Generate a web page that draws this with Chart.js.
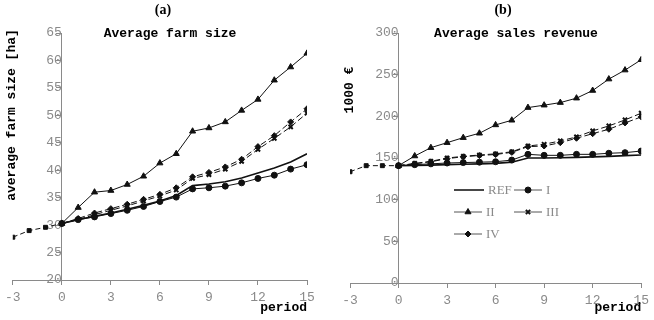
<!DOCTYPE html>
<html>
<head>
<meta charset="utf-8">
<script src="https://cdn.jsdelivr.net/npm/chart.js@4/dist/chart.umd.min.js"></script>
<style>
  body { margin: 0; background: #fff; }
  #wrap { position: relative; width: 654px; height: 320px; }
  .panel { position: absolute; top: 0; width: 327px; height: 320px; }
</style>
</head>
<body>
<div id="wrap">
  <div class="panel" style="left:0"><canvas id="farmChart"></canvas></div>
  <div class="panel" style="left:327px"><canvas id="salesChart"></canvas></div>
</div>
<script>
// periods
const histPeriods = [-3, -2, -1, 0];
const simPeriods = [0, 1, 2, 3, 4, 5, 6, 7, 8, 9, 10, 11, 12, 13, 14, 15];
const seriesNames = ['REF', 'I', 'II', 'III', 'IV'];

// (a) average farm size [ha]
const farmHist = [27.8, 29.0, 29.6, 30.3];
const farmREF = [30.3, 31.0, 31.6, 32.2, 32.9, 33.6, 34.4, 35.4, 37.2, 37.5, 37.9, 38.6, 39.5, 40.4, 41.5, 43.0];
const farmI   = [30.3, 31.0, 31.5, 32.1, 32.7, 33.4, 34.3, 35.1, 36.6, 36.8, 37.1, 37.7, 38.5, 39.1, 40.2, 41.0];
const farmII  = [30.3, 33.2, 36.0, 36.3, 37.4, 38.9, 41.3, 43.0, 47.1, 47.7, 48.8, 50.9, 52.9, 56.4, 58.8, 61.3];
const farmIII = [30.3, 31.0, 31.9, 32.7, 33.5, 34.4, 35.3, 36.4, 38.5, 39.2, 40.2, 41.6, 43.8, 45.8, 47.9, 50.4];
const farmIV  = [30.3, 31.2, 32.2, 33.0, 33.8, 34.7, 35.6, 36.8, 38.8, 39.6, 40.6, 42.0, 44.3, 46.3, 48.8, 51.2];

// (b) average sales revenue [1000 €]
const salesHist = [133.5, 140.8, 140.8, 140.8];
const salesREF = [140.8, 141.0, 141.5, 142.0, 142.5, 143.0, 143.5, 145.0, 150.0, 150.0, 150.3, 150.8, 151.3, 152.0, 152.8, 153.6];
const salesI   = [140.8, 142.0, 143.0, 144.0, 144.5, 145.0, 145.5, 147.5, 154.4, 153.2, 153.2, 154.4, 154.4, 155.7, 156.4, 158.4];
const salesII  = [140.8, 152.4, 162.4, 168.4, 174.4, 179.7, 189.7, 195.3, 210.5, 213.4, 216.5, 221.8, 231.0, 244.7, 255.5, 267.9];
const salesIII = [140.8, 143.5, 146.0, 150.0, 152.0, 153.6, 155.0, 157.5, 164.4, 166.5, 170.5, 175.3, 182.5, 188.5, 195.7, 203.8];
const salesIV  = [140.8, 143.0, 145.5, 149.2, 151.5, 153.0, 154.2, 156.8, 163.6, 164.4, 168.4, 173.7, 179.2, 184.5, 192.1, 199.3];

const GRAY = '#8a8a8a';
const MONO = '"Liberation Mono", "DejaVu Sans Mono", monospace';
const SERIF = '"Liberation Serif", "DejaVu Serif", serif';

// marker style per series
const markerStyles = {
    'REF': { pointStyle: false, radius: 0, borderWidth: 1.6, dash: [] },
    'I':   { pointStyle: 'circle', radius: 3, borderWidth: 1, dash: [] },
    'II':  { pointStyle: 'triangle', radius: 3.5, borderWidth: 1, dash: [] },
    'III': { pointStyle: 'crossRot', radius: 3, borderWidth: 2, dash: [6, 3] },
    'IV':  { pointStyle: 'rectRot', radius: 3, borderWidth: 1, dash: [6, 3] }
};

function toPoints(xs, ys) {
    return xs.map((x, i) => ({ x: x, y: ys[i] }));
}

function buildDatasets(hist, series) {
    const sets = [{
        label: 'history',
        data: toPoints(histPeriods, hist),
        borderColor: '#111',
        backgroundColor: '#111',
        borderWidth: 1,
        borderDash: [5, 3],
        pointStyle: 'rect',
        pointRadius: 2.8,
        pointBorderWidth: 1
    }];
    seriesNames.forEach((name, i) => {
        const m = markerStyles[name];
        sets.push({
            label: name,
            data: toPoints(simPeriods, series[i]),
            borderColor: '#111',
            backgroundColor: '#111',
            borderWidth: name === 'REF' ? 1.6 : 1,
            borderDash: m.dash,
            pointStyle: m.pointStyle,
            pointRadius: m.radius,
            pointBorderWidth: m.borderWidth
        });
    });
    return sets;
}

// titles and axis names drawn on the canvas
function textPlugin(cfg) {
    return {
        id: 'panelText',
        afterDraw(chart) {
            const ctx = chart.ctx;
            ctx.save();
            ctx.fillStyle = '#000';
            ctx.textBaseline = 'middle';
            ctx.textAlign = 'center';
            ctx.font = 'bold 14px ' + SERIF;
            ctx.fillText(cfg.panel, cfg.panelX, 10);
            ctx.font = 'bold 13px ' + MONO;
            ctx.fillText(cfg.title, cfg.titleX, 34);
            ctx.textAlign = 'right';
            ctx.fillText('period', chart.chartArea.right, 308);
            ctx.translate(cfg.yTitleX, cfg.yTitleY);
            ctx.rotate(-Math.PI / 2);
            ctx.textAlign = 'center';
            ctx.fillText(cfg.yTitle, 0, 0);
            ctx.restore();
        }
    };
}

// legend inside panel (b)
const legendPlugin = {
    id: 'innerLegend',
    afterDraw(chart) {
        const ctx = chart.ctx;
        const slots = [[127, 190], [187, 190], [127, 212], [187, 212], [127, 234]];
        ctx.save();
        seriesNames.forEach((name, i) => {
            const m = markerStyles[name];
            const [x, y] = slots[i];
            const w = name === 'REF' ? 30 : 28;
            ctx.strokeStyle = name === 'REF' ? '#333' : '#555';
            ctx.lineWidth = name === 'REF' ? 1.8 : 1;
            ctx.beginPath();
            ctx.moveTo(x, y);
            ctx.lineTo(x + w, y);
            ctx.stroke();
            if (m.pointStyle) {
                ctx.fillStyle = '#111';
                ctx.strokeStyle = '#111';
                ctx.lineWidth = m.borderWidth;
                Chart.helpers.drawPoint(ctx, {
                    pointStyle: m.pointStyle, radius: m.radius,
                    rotation: 0, borderWidth: m.borderWidth
                }, x + w / 2, y);
            }
            ctx.fillStyle = GRAY;
            ctx.font = '13px ' + SERIF;
            ctx.textAlign = 'left';
            ctx.textBaseline = 'middle';
            ctx.fillText(name, x + w + 4, y + 1);
        });
        ctx.restore();
    }
};

function makeChart(canvasId, hist, series, yMin, yMax, yStep, padding, cfg, extraPlugins) {
    const ctx = document.getElementById(canvasId).getContext('2d');
    return new Chart(ctx, {
        type: 'line',
        data: { datasets: buildDatasets(hist, series) },
        options: {
            responsive: false,
            animation: false,
            layout: { padding: padding },
            plugins: {
                legend: { display: false },
                tooltip: { enabled: false }
            },
            elements: { line: { tension: 0 } },
            scales: {
                x: {
                    type: 'linear',
                    min: -3,
                    max: 15,
                    afterFit: function (scale) { scale.height = 30; },
                    ticks: {
                        stepSize: 3,
                        color: GRAY,
                        padding: 5,
                        maxRotation: 0,
                        font: { family: MONO, size: 13 }
                    },
                    grid: { drawOnChartArea: false, drawTicks: true, tickLength: 5, color: GRAY },
                    border: { color: GRAY, width: 1 }
                },
                y: {
                    position: { x: 0 },
                    min: yMin,
                    max: yMax,
                    ticks: {
                        stepSize: yStep,
                        color: GRAY,
                        padding: 4,
                        font: { family: MONO, size: 13 }
                    },
                    grid: { drawOnChartArea: false, drawTicks: true, tickLength: 5, color: GRAY },
                    border: { color: GRAY, width: 1 }
                }
            }
        },
        plugins: [textPlugin(cfg)].concat(extraPlugins)
    });
}

document.getElementById('farmChart').width = 327;
document.getElementById('farmChart').height = 320;
document.getElementById('salesChart').width = 327;
document.getElementById('salesChart').height = 320;

makeChart('farmChart', farmHist, [farmREF, farmI, farmII, farmIII, farmIV], 20, 65, 5,
    { left: 8, right: 20, top: 33, bottom: 10 },
    { panel: '(a)', panelX: 163, title: 'Average farm size', titleX: 170,
      yTitle: 'average farm size [ha]', yTitleX: 12, yTitleY: 115 }, []);

makeChart('salesChart', salesHist, [salesREF, salesI, salesII, salesIII, salesIV], 0, 300, 50,
    { left: 23, right: 12, top: 33, bottom: 7 },
    { panel: '(b)', panelX: 176, title: 'Average sales revenue', titleX: 189,
      yTitle: '1000 €', yTitleX: 23, yTitleY: 90 }, [legendPlugin]);
</script>
</body>
</html>
